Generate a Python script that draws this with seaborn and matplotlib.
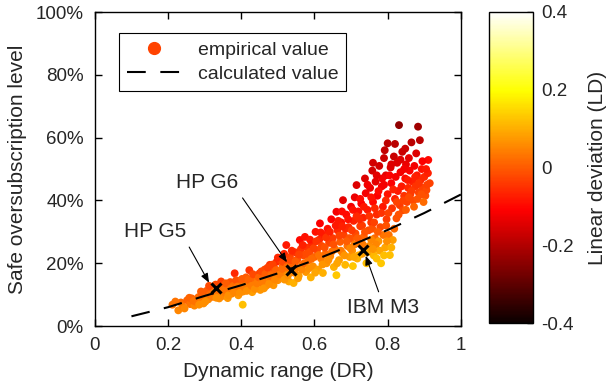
import numpy as np
import pandas as pd
import matplotlib
matplotlib.use("Agg")
import matplotlib.pyplot as plt
from matplotlib.lines import Line2D
import seaborn as sns

sns.set_style("ticks")
plt.rcParams['font.family'] = ['Liberation Sans', 'DejaVu Sans']
plt.rcParams['axes.unicode_minus'] = False

# ---------------- data ----------------
dr = [
    0.212, 0.228, 0.235, 0.240, 0.252, 0.260, 0.265, 0.272, 0.278, 0.283, 0.288, 0.293, 0.297, 0.300,
    0.305, 0.310, 0.315, 0.318, 0.322, 0.327, 0.330, 0.335, 0.340, 0.342, 0.347, 0.350, 0.353, 0.357,
    0.360, 0.363, 0.367, 0.370, 0.374, 0.378, 0.382, 0.385, 0.388, 0.392, 0.395, 0.398, 0.404, 0.345,
    0.405, 0.410, 0.413, 0.418, 0.422, 0.425, 0.430, 0.434, 0.438, 0.440, 0.445, 0.450, 0.452, 0.456,
    0.460, 0.464, 0.468, 0.470, 0.474, 0.478, 0.480, 0.484, 0.488, 0.490, 0.494, 0.497, 0.500,
    0.503, 0.507, 0.510, 0.513, 0.517, 0.520, 0.523, 0.526, 0.530, 0.533, 0.536, 0.540, 0.543, 0.547,
    0.550, 0.553, 0.557, 0.560, 0.563, 0.567, 0.570, 0.574, 0.577, 0.580, 0.583, 0.587, 0.590, 0.593,
    0.596, 0.600,
    0.603, 0.607, 0.610, 0.613, 0.615, 0.618, 0.620, 0.623, 0.626, 0.630, 0.633, 0.636, 0.640, 0.643,
    0.646, 0.650, 0.653, 0.656, 0.660, 0.660, 0.663, 0.667, 0.670, 0.673, 0.677, 0.678, 0.680, 0.684,
    0.687, 0.690, 0.693, 0.696, 0.700, 0.700,
    0.703, 0.705, 0.707, 0.710, 0.712, 0.715, 0.717, 0.720, 0.722, 0.725, 0.728, 0.730, 0.733, 0.735,
    0.738, 0.740, 0.742, 0.745, 0.748, 0.750, 0.752, 0.755, 0.758, 0.760, 0.762, 0.765, 0.767, 0.770,
    0.772, 0.775, 0.777, 0.780, 0.782, 0.784, 0.787, 0.790, 0.792, 0.793, 0.795, 0.797, 0.800, 0.800,
    0.803, 0.806, 0.808, 0.810, 0.812, 0.814, 0.817, 0.820, 0.822, 0.824, 0.826, 0.828, 0.831, 0.833,
    0.835, 0.838, 0.840, 0.842, 0.845, 0.848, 0.850, 0.853, 0.856, 0.860, 0.862, 0.865, 0.868, 0.870,
    0.873, 0.876, 0.880, 0.883, 0.885, 0.888, 0.890, 0.893, 0.896, 0.900, 0.903, 0.906, 0.910, 0.911,
    0.915,
    0.715, 0.725, 0.735, 0.745, 0.755, 0.765, 0.775, 0.785, 0.795, 0.805, 0.815, 0.825, 0.835, 0.845,
    0.855, 0.865, 0.875, 0.885, 0.895, 0.905, 0.758, 0.768, 0.778, 0.788, 0.798, 0.770, 0.790, 0.810,
    0.745, 0.755, 0.685, 0.695, 0.675, 0.665, 0.705, 0.710, 0.720, 0.730,
    0.220, 0.245, 0.258, 0.270, 0.285, 0.290, 0.302, 0.312, 0.325, 0.332, 0.338, 0.352, 0.358, 0.365,
    0.372, 0.380, 0.386, 0.390, 0.396, 0.402, 0.408, 0.415, 0.420, 0.428, 0.432, 0.437, 0.443, 0.448,
    0.455, 0.458, 0.462, 0.466, 0.472, 0.476, 0.482, 0.486, 0.492, 0.495, 0.500, 0.505, 0.512, 0.515,
    0.518, 0.525, 0.528, 0.535, 0.538, 0.545, 0.548, 0.555, 0.558, 0.565, 0.568, 0.572, 0.578, 0.585,
    0.588, 0.592, 0.598, 0.602, 0.605, 0.612, 0.617, 0.622, 0.628, 0.632, 0.638, 0.642, 0.648, 0.652,
    0.658, 0.662, 0.668, 0.672, 0.676, 0.682, 0.688, 0.692, 0.698, 0.702, 0.708, 0.718, 0.723, 0.732,
    0.738, 0.750, 0.760, 0.763, 0.773, 0.783, 0.796, 0.802, 0.818, 0.830, 0.843, 0.850, 0.858, 0.872,
    0.882, 0.892, 0.898, 0.908, 0.858, 0.878, 0.848, 0.820, 0.810, 0.790, 0.770, 0.760,
]
sol = [
    6.8, 5.0, 7.5, 6.2, 8.2, 7.0, 8.8, 6.5, 7.6, 9.2, 8.0, 10.1, 7.2, 9.0,
    11.2, 8.5, 10.0, 12.5, 9.3, 11.0, 13.2, 10.2, 8.8, 12.0, 11.1, 9.6, 13.0, 10.5,
    12.4, 8.9, 11.6, 14.0, 10.3, 12.8, 16.8, 11.4, 13.6, 9.8, 12.2, 14.5, 6.8, 14.2,
    11.0, 13.3, 15.5, 12.1, 17.8, 14.2, 10.8, 13.0, 15.8, 12.0, 14.6, 16.8, 11.5, 13.8,
    15.2, 18.0, 12.8, 16.0, 14.0, 19.5, 15.5, 17.2, 13.0, 18.5, 16.3, 20.5, 14.6,
    17.5, 21.0, 15.8, 19.0, 23.0, 16.8, 25.8, 20.2, 14.2, 22.0, 17.6, 19.8, 13.7, 23.5,
    18.5, 21.2, 16.0, 27.4, 24.5, 19.5, 22.5, 28.4, 17.2, 25.0, 20.8, 23.6, 15.5, 26.5,
    19.0, 22.0,
    30.0, 24.2, 18.0, 27.5, 32.7, 21.5, 25.5, 16.9, 29.0, 23.0, 20.0, 31.0, 26.5, 22.2,
    34.0, 28.0, 18.8, 24.5, 36.4, 16.2, 30.5, 21.0, 26.8, 33.0, 23.2, 40.1, 29.0, 19.5,
    35.5, 25.5, 31.5, 22.0, 38.0, 27.8,
    24.0, 19.1, 33.5, 41.0, 29.5, 44.9, 21.5, 36.5, 26.5, 31.8, 39.0, 23.0, 34.5, 28.5,
    47.0, 42.3, 20.0, 37.0, 30.5, 25.5, 44.0, 33.0, 49.5, 39.5, 22.5, 28.0, 46.0, 35.5,
    41.5, 27.0, 51.0, 31.5, 20.0, 44.5, 38.0, 53.5, 56.0, 25.0, 48.0, 34.0, 42.0, 58.2,
    29.0, 22.6, 50.5, 45.5, 37.5, 27.4, 54.0, 40.5, 47.5, 34.3, 52.0, 43.0, 64.0, 38.5,
    49.0, 44.5, 55.5, 36.9, 41.5, 47.0, 51.5, 39.5, 44.0, 49.5, 42.0, 58.5, 46.0, 40.0,
    51.0, 44.5, 48.0, 63.5, 42.5, 59.2, 46.5, 50.0, 44.0, 47.5, 41.5, 43.3, 48.7, 52.9,
    45.5,
    35.0, 40.5, 38.0, 45.0, 41.0, 37.5, 43.0, 47.0, 40.0, 48.0, 43.5, 39.5, 53.0, 50.0,
    46.5, 43.0, 47.5, 45.5, 52.5, 50.0, 31.0, 26.0, 24.0, 29.0, 27.0, 21.5, 22.5, 25.0,
    23.5, 27.5, 31.0, 28.0, 36.5, 33.5, 37.0, 26.0, 22.5, 32.0,
    7.8, 5.6, 9.0, 8.0, 6.8, 11.0, 7.8, 12.8, 10.6, 9.0, 11.8, 11.5, 13.6, 9.8,
    12.0, 10.8, 14.6, 12.6, 10.6, 15.0, 12.4, 11.2, 14.8, 12.8, 16.5, 11.8, 13.6, 15.5,
    17.4, 14.2, 12.0, 16.6, 18.6, 13.4, 16.2, 19.6, 14.8, 17.8, 21.8, 16.4, 18.2, 20.4,
    14.8, 18.8, 16.2, 21.0, 24.0, 17.0, 20.5, 15.2, 22.8, 18.0, 25.8, 20.0, 23.0, 18.4,
    27.5, 21.4, 24.8, 17.0, 27.0, 22.6, 29.8, 19.6, 25.0, 28.2, 21.0, 30.0, 23.8, 26.0,
    32.0, 20.0, 28.8, 24.0, 31.8, 22.5, 27.0, 34.0, 24.8, 30.5, 22.0, 28.0, 34.0, 26.0,
    30.0, 35.0, 24.5, 33.0, 30.0, 36.0, 32.0, 36.0, 31.0, 35.5, 40.0, 37.0, 41.0, 38.0,
    40.5, 42.0, 39.5, 45.0, 53.5, 55.0, 56.5, 58.0, 51.5, 45.0, 48.0, 52.0,
]
ld = [
    0.03, 0.05, 0.02, 0.04, 0.01, 0.03, 0.01, 0.05, 0.03, 0.02, 0.04, 0.00, 0.06, 0.02,
    0.00, 0.05, 0.02, -0.01, 0.04, 0.02, -0.02, 0.03, 0.06, 0.02, 0.02, 0.05, 0.00, 0.04,
    0.02, 0.07, 0.03, -0.01, 0.05, 0.02, -0.06, 0.04, 0.02, 0.07, 0.03, 0.01, 0.12, -0.03,
    0.06, 0.03, 0.00, 0.05, -0.05, 0.02, 0.08, 0.04, 0.01, 0.06, 0.03, -0.03, 0.07, 0.04,
    0.02, -0.02, 0.06, 0.02, 0.05, -0.05, 0.03, 0.00, 0.07, -0.01, 0.02, -0.06, 0.06,
    0.02, -0.04, 0.06, 0.00, -0.06, 0.05, -0.08, -0.01, 0.09, -0.03, 0.04, 0.01, 0.10, -0.05,
    0.03, -0.01, 0.08, -0.10, -0.05, 0.03, -0.02, -0.09, 0.07, -0.05, 0.02, -0.02, 0.10, -0.06,
    0.06, 0.01,
    -0.09, -0.02, 0.08, -0.06, -0.11, 0.04, -0.02, 0.10, -0.07, 0.02, 0.07, -0.09, -0.03, 0.05,
    -0.11, -0.04, 0.10, 0.03, -0.12, 0.13, -0.06, 0.08, 0.00, -0.09, 0.06, -0.14, -0.03, 0.11,
    -0.10, 0.03, -0.06, 0.08, -0.12, 0.00,
    0.06, 0.13, -0.07, -0.13, -0.02, -0.15, 0.10, -0.09, 0.03, -0.04, -0.11, 0.08, -0.07, 0.01,
    -0.15, -0.12, 0.12, -0.08, -0.02, 0.06, -0.13, -0.05, -0.16, -0.10, 0.11, 0.02, -0.14, -0.06,
    -0.11, 0.07, -0.16, -0.02, 0.13, -0.12, -0.08, -0.17, -0.18, 0.09, -0.14, -0.04, -0.09, -0.19,
    0.03, 0.12, -0.15, -0.11, -0.05, 0.08, -0.17, -0.07, -0.12, -0.01, -0.15, -0.08, -0.24, -0.04,
    -0.12, -0.08, -0.17, -0.02, -0.05, -0.10, -0.13, -0.03, -0.06, -0.11, -0.04, -0.19, -0.07, -0.02,
    -0.12, -0.05, -0.08, -0.22, -0.03, -0.19, -0.06, -0.09, -0.03, -0.06, -0.01, -0.02, -0.07, -0.10,
    -0.03,
    -0.06, -0.10, -0.08, -0.12, -0.09, -0.06, -0.10, -0.12, -0.06, -0.11, -0.07, -0.03, -0.15, -0.12,
    -0.08, -0.04, -0.07, -0.05, -0.11, -0.08, -0.01, 0.05, 0.09, 0.03, 0.06, 0.12, 0.12, 0.10,
    0.09, 0.05, -0.06, -0.01, -0.10, -0.08, -0.09, 0.04, 0.10, -0.04,
    0.03, 0.05, 0.01, 0.03, 0.06, 0.00, 0.06, -0.02, 0.03, 0.06, 0.02, 0.03, 0.00, 0.06,
    0.03, 0.05, -0.01, 0.03, 0.06, 0.00, 0.04, 0.06, 0.01, 0.04, -0.02, 0.06, 0.04, 0.01,
    -0.02, 0.04, 0.07, 0.00, -0.03, 0.06, 0.02, -0.03, 0.05, 0.01, -0.06, 0.04, 0.02, -0.02,
    0.07, 0.02, 0.06, -0.02, -0.06, 0.05, 0.00, 0.08, -0.03, 0.05, -0.07, 0.02, -0.02, 0.06,
    -0.08, 0.02, -0.03, 0.09, -0.05, 0.03, -0.08, 0.07, -0.01, -0.05, 0.06, -0.07, 0.03, -0.01,
    -0.08, 0.09, -0.03, 0.04, -0.07, 0.07, 0.00, -0.09, 0.05, -0.04, 0.09, 0.00, -0.06, 0.04,
    -0.01, -0.05, 0.07, -0.03, 0.00, -0.05, -0.01, -0.03, 0.02, -0.01, -0.03, 0.00, -0.02, 0.01,
    -0.01, -0.01, 0.02, -0.03, -0.14, -0.15, -0.17, -0.19, -0.15, -0.12, -0.14, -0.16,
]

calc_dr = [0.1, 0.2, 0.3, 0.4, 0.5, 0.6, 0.7, 0.8, 0.9, 1.0]
calc_sol = [3.1, 6.0, 9.6, 13.0, 16.8, 21.0, 25.7, 30.6, 36.0, 41.9]

servers = ["HP G5", "HP G6", "IBM M3"]
server_dr = [0.332, 0.536, 0.732]
server_sol = [12.1, 18.0, 24.1]
label_pos = [(0.164, 30.0), (0.308, 45.6), (0.787, 6.0)]
label_relpos = [(1.0, 0.0), (1.0, 0.0), (0.47, 1.0)]
arrow_tip = [(0.312, 13.8), (0.525, 20.3), (0.74, 22.4)]

xticks = [0, 0.2, 0.4, 0.6, 0.8, 1.0]
xticklabels = ["0", "0.2", "0.4", "0.6", "0.8", "1"]
yticks = [0, 20, 40, 60, 80, 100]
yticklabels = ["0%", "20%", "40%", "60%", "80%", "100%"]
cticks = [-0.4, -0.2, 0, 0.2, 0.4]
cticklabels = ["-0.4", "-0.2", "0", "0.2", "0.4"]

df = pd.DataFrame({"dr": dr, "sol": sol, "ld": ld})

# ---------------- figure ----------------
fig = plt.figure(figsize=(6.08, 3.90), dpi=100)
ax = fig.add_axes([0.156, 0.164, 0.602, 0.805])
cax = fig.add_axes([0.805, 0.171, 0.072, 0.799])

vmin, vmax = -0.4, 0.4
sns.scatterplot(data=df, x="dr", y="sol", hue="ld", palette="hot",
                hue_norm=(vmin, vmax), s=32, linewidth=0, legend=False,
                ax=ax, zorder=2)

ax.plot(calc_dr, calc_sol, color="black", lw=1.5, linestyle=(0, (9, 7)), zorder=3)
ax.plot(server_dr, server_sol, linestyle="none", marker="x", color="black",
        ms=7.5, mew=2.2, zorder=4)

for name, pos, rp, tip in zip(servers, label_pos, label_relpos, arrow_tip):
    ax.annotate(name, xy=tip, xytext=pos, ha="center", va="center", fontsize=15,
                arrowprops=dict(arrowstyle="-|>,head_length=0.55,head_width=0.22",
                                color="black", lw=0.8, relpos=rp,
                                shrinkA=2, shrinkB=0, mutation_scale=10),
                zorder=5)

ax.set_xlim(0, 1)
ax.set_ylim(0, 100)
ax.set_xticks(xticks)
ax.set_xticklabels(xticklabels)
ax.set_yticks(yticks)
ax.set_yticklabels(yticklabels)
ax.tick_params(direction="in", top=True, right=True, length=5, width=1,
               labelsize=13.5, pad=8, color="black")
for sp in ax.spines.values():
    sp.set_visible(True)
    sp.set_color("black")
    sp.set_linewidth(1.0)
ax.set_xlabel("Dynamic range (DR)", fontsize=15, labelpad=6)
ax.set_ylabel("Safe oversubscription level", fontsize=15, labelpad=6)

handles = [
    Line2D([], [], marker="o", linestyle="none", color="#ff4300", ms=8.5),
    Line2D([], [], color="black", lw=1.5, linestyle=(0, (9, 7))),
]
leg = ax.legend(handles, ["empirical value", "calculated value"],
                loc="upper left", bbox_to_anchor=(0.066, 0.933), borderaxespad=0,
                fontsize=14, frameon=True, fancybox=False, framealpha=1,
                edgecolor="black", handlelength=2.85, handletextpad=0.8,
                borderpad=0.4, labelspacing=0.35)
leg.get_frame().set_linewidth(0.8)

sm = plt.cm.ScalarMappable(cmap="hot", norm=plt.Normalize(vmin, vmax))
sm.set_array([])
cb = fig.colorbar(sm, cax=cax, ticks=cticks)
cb.set_ticklabels(cticklabels)
cb.ax.tick_params(direction="in", length=4, width=1, labelsize=13.5, pad=6, color="black")
cb.outline.set_linewidth(1.0)
cb.outline.set_edgecolor("black")
cb.set_label("Linear deviation (LD)", fontsize=15, labelpad=10)

fig.savefig("out.png", dpi=100)
